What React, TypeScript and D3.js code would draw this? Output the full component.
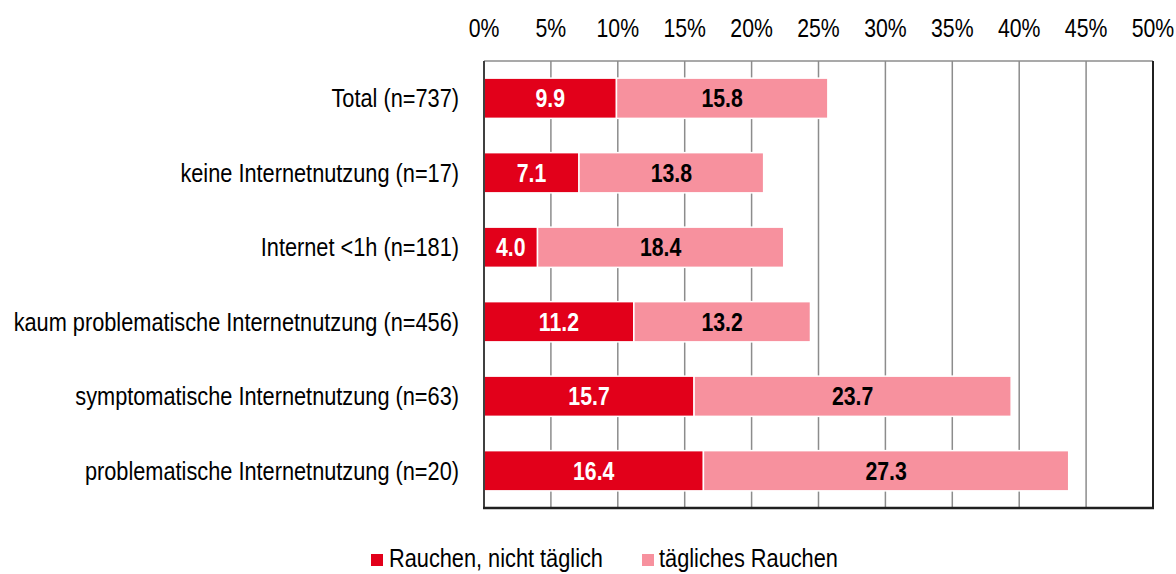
import React from "react";
import * as d3 from "d3";

const categories = [
  "Total (n=737)",
  "keine Internetnutzung (n=17)",
  "Internet <1h (n=181)",
  "kaum problematische Internetnutzung (n=456)",
  "symptomatische Internetnutzung (n=63)",
  "problematische Internetnutzung (n=20)",
];
const nichtTaeglich = [9.9, 7.1, 4.0, 11.2, 15.7, 16.4];
const taeglich = [15.8, 13.8, 18.4, 13.2, 23.7, 27.3];
const seriesNames = ["Rauchen, nicht täglich", "tägliches Rauchen"];
const xTicks = [0, 5, 10, 15, 20, 25, 30, 35, 40, 45, 50];

const W = 1176;
const H = 574;
const FONT = "'Liberation Sans', Arial, sans-serif";
const C1 = "#e2001a";
const C2 = "#f7919e";

function NText(props: {
  x: number;
  y: number;
  sx: number;
  anchor?: string;
  size?: number;
  bold?: boolean;
  fill?: string;
  children: React.ReactNode;
}) {
  const { x, y, sx, anchor = "start", size = 25, bold = false, fill = "#000", children } = props;
  return (
    <text
      transform={`translate(${x},${y}) scale(${sx},1)`}
      textAnchor={anchor}
      fontSize={size}
      fontWeight={bold ? "bold" : "normal"}
      fill={fill}
    >
      {children}
    </text>
  );
}

export default function App() {
  const left = 484;
  const right = 1153;
  const top = 61;
  const bottom = 508;
  const x = d3.scaleLinear().domain([0, 50]).range([left, right]);
  const y = d3.scaleBand().domain(categories).range([top, bottom]).paddingInner(0.46).paddingOuter(0.23);
  const bh = y.bandwidth();

  return (
    <svg width={W} height={H} style={{ position: "absolute", left: 0, top: 0 }} fontFamily={FONT}>
      <rect width={W} height={H} fill="#fff" />
      {xTicks.map((t) => (
        <line key={"g" + t} x1={x(t)} x2={x(t)} y1={top} y2={bottom} stroke="#8c8c8c" strokeWidth={1.5} />
      ))}
      <line x1={left} x2={right} y1={top} y2={top} stroke="#8c8c8c" strokeWidth={1.5} />
      {xTicks.map((t) => (
        <NText key={"t" + t} x={x(t)} y={37} sx={0.85} anchor="middle">
          {t}%
        </NText>
      ))}
      {categories.map((c, i) => {
        const y0 = y(c)!;
        const a = nichtTaeglich[i];
        const b = taeglich[i];
        return (
          <g key={c}>
            <rect x={x(0)} y={y0} width={x(a) - x(0)} height={bh} fill={C1} stroke="#fff" strokeWidth={1.5} />
            <rect x={x(a)} y={y0} width={x(a + b) - x(a)} height={bh} fill={C2} stroke="#fff" strokeWidth={1.5} />
            <NText x={(x(0) + x(a)) / 2} y={y0 + bh / 2 + 9} sx={0.85} anchor="middle" bold fill="#fff">
              {a.toFixed(1)}
            </NText>
            <NText x={(x(a) + x(a + b)) / 2} y={y0 + bh / 2 + 9} sx={0.85} anchor="middle" bold fill="#000">
              {b.toFixed(1)}
            </NText>
            <NText x={459} y={y0 + bh / 2 + 9} sx={0.87} anchor="end">
              {c}
            </NText>
          </g>
        );
      })}
      <line x1={left} x2={left} y1={top} y2={bottom} stroke="#404040" strokeWidth={2} />
      <line x1={right} x2={right} y1={top} y2={bottom} stroke="#202020" strokeWidth={2} />
      <line x1={left - 1} x2={right + 1} y1={bottom} y2={bottom} stroke="#202020" strokeWidth={2.5} />
      <g>
        <rect x={371} y={554} width={12} height={12} fill={C1} />
        <NText x={389} y={567} sx={0.87}>{seriesNames[0]}</NText>
        <rect x={642} y={554} width={12} height={12} fill={C2} />
        <NText x={659} y={567} sx={0.87}>{seriesNames[1]}</NText>
      </g>
    </svg>
  );
}
